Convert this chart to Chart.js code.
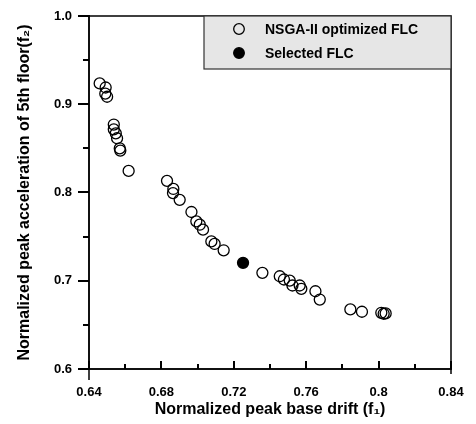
<!DOCTYPE html>
<html>
<head>
<meta charset="utf-8">
<script src="https://cdn.jsdelivr.net/npm/chart.js@4.4.1/dist/chart.umd.min.js"></script>
<style>
    html, body { margin: 0; padding: 0; background: #fff; }
    #wrap { width: 476px; height: 424px; position: relative; }
</style>
</head>
<body>
<div id="wrap"><canvas id="chart"></canvas></div>
<script>
// Pareto front
const paretoF1 = [0.6459, 0.6492, 0.6490, 0.6500, 0.6537, 0.6537, 0.6548, 0.6555, 0.6570, 0.6573,
    0.6619, 0.6831, 0.6866, 0.6864, 0.6901, 0.6966, 0.6993, 0.7012, 0.7030, 0.7076,
    0.7094, 0.7144, 0.7358, 0.7454, 0.7477, 0.7509, 0.7524, 0.7564, 0.7573, 0.7651,
    0.7675, 0.7844, 0.7908, 0.8015, 0.8028, 0.8039];
const paretoF2 = [0.9236, 0.9190, 0.9120, 0.9085, 0.8770, 0.8716, 0.8670, 0.8615, 0.8500, 0.8475,
    0.8245, 0.8132, 0.8040, 0.7993, 0.7917, 0.7779, 0.7673, 0.7635, 0.7579, 0.7446,
    0.7417, 0.7345, 0.7090, 0.7051, 0.7014, 0.7002, 0.6946, 0.6946, 0.6908, 0.6881,
    0.6787, 0.6675, 0.6649, 0.6637, 0.6626, 0.6630];
const selectedF1 = [0.7251];
const selectedF2 = [0.7203];

const seriesNames = ['NSGA-II optimized FLC', 'Selected FLC'];
const xTickLabels = [0.64, 0.68, 0.72, 0.76, 0.8, 0.84];
const yTickLabels = [0.6, 0.7, 0.8, 0.9, 1.0];
const xMinorStep = 0.02;
const yMinorStep = 0.05;

const toPoints = (xs, ys) => xs.map((x, i) => ({ x, y: ys[i] }));
const isMajor = (list, v) => list.some(t => Math.abs(t - v) < 1e-6);

const bold = size => ({ family: "'Liberation Sans', Arial, sans-serif", size, weight: 'bold' });

function tickValues(scale, step) {
    const out = [];
    const n = Math.round((scale.max - scale.min) / step);
    for (let i = 0; i <= n; i++) out.push(scale.min + i * step);
    return out;
}

// inward x ticks, outward y ticks, box frame and legend
const framePlugin = {
    id: 'frame',
    afterDraw(chart) {
        const { ctx, chartArea: a, scales } = chart;
        const xs = tickValues(scales.x, xMinorStep).map(v => [Math.round(scales.x.getPixelForValue(v)), isMajor(xTickLabels, v) ? 8 : 5]);
        const ys = tickValues(scales.y, yMinorStep).map(v => [Math.round(scales.y.getPixelForValue(v)), isMajor(yTickLabels, v) ? 11 : 6]);
        ctx.save();
        ctx.strokeStyle = '#000';
        ctx.lineWidth = 2;
        ctx.beginPath();
        xs.forEach(([px, len]) => {
            ctx.moveTo(px, a.bottom);
            ctx.lineTo(px, a.bottom - len);
        });
        ys.forEach(([py, len]) => {
            ctx.moveTo(a.left, py);
            ctx.lineTo(a.left - len, py);
        });
        ctx.stroke();

        // top and right sides of the box, plus the stubs below the x axis
        ctx.lineWidth = 1.5;
        ctx.beginPath();
        ctx.moveTo(a.left, a.top);
        ctx.lineTo(a.right, a.top);
        ctx.lineTo(a.right, a.bottom + 5);
        ctx.moveTo(a.left, a.bottom);
        ctx.lineTo(a.left, a.bottom + 11);
        ctx.stroke();

        // legend
        const lx = 204, ly = a.top, lw = a.right - lx, lh = 53;
        ctx.fillStyle = '#e6e6e6';
        ctx.fillRect(lx, ly, lw, lh);
        ctx.strokeStyle = '#333';
        ctx.lineWidth = 1.2;
        ctx.strokeRect(lx, ly, lw, lh);
        chart.data.datasets.forEach((ds, i) => {
            const cy = ly + 13 + i * 24;
            ctx.beginPath();
            ctx.arc(239, cy, 5.3, 0, Math.PI * 2);
            if (ds.backgroundColor !== 'rgba(0,0,0,0)') {
                ctx.fillStyle = ds.backgroundColor;
                ctx.fill();
            }
            ctx.strokeStyle = '#000';
            ctx.lineWidth = 1.3;
            ctx.stroke();
            ctx.fillStyle = '#000';
            ctx.font = "bold 14px 'Liberation Sans', Arial, sans-serif";
            ctx.textBaseline = 'middle';
            ctx.fillText(ds.label, 265, cy + 1);
        });
        ctx.restore();
    }
};

new Chart(document.getElementById('chart'), {
    type: 'scatter',
    data: {
        datasets: [
            {
                label: seriesNames[0],
                data: toPoints(paretoF1, paretoF2),
                pointRadius: 5.5,
                pointBorderWidth: 1.3,
                borderColor: '#000',
                backgroundColor: 'rgba(0,0,0,0)'
            },
            {
                label: seriesNames[1],
                data: toPoints(selectedF1, selectedF2),
                pointRadius: 5.5,
                pointBorderWidth: 1.3,
                borderColor: '#000',
                backgroundColor: '#000'
            }
        ]
    },
    options: {
        responsive: true,
        maintainAspectRatio: false,
        animation: false,
        layout: { padding: { top: 16, right: 25, left: 0, bottom: 0 } },
        plugins: { legend: { display: false }, tooltip: { enabled: false } },
        scales: {
            x: {
                type: 'linear',
                min: 0.64,
                max: 0.84,
                afterFit: s => { s.height = 55; s.paddingLeft = 0; s.paddingRight = 0; },
                grid: { display: false, drawTicks: false },
                border: { color: '#111', width: 2 },
                ticks: {
                    stepSize: xMinorStep,
                    padding: 16,
                    maxRotation: 0,
                    autoSkip: false,
                    color: '#000',
                    font: bold(13),
                    callback: v => {
                        const m = xTickLabels.find(t => Math.abs(t - v) < 1e-6);
                        return m === undefined ? '' : String(m);
                    }
                },
                title: {
                    display: true,
                    text: 'Normalized peak base drift (f₁)',
                    color: '#000',
                    font: bold(16),
                    padding: { top: 5, bottom: 5 }
                }
            },
            y: {
                type: 'linear',
                min: 0.6,
                max: 1.0,
                afterFit: s => { s.width = 89; s.paddingTop = 0; s.paddingBottom = 0; },
                grid: { display: false, drawTicks: false },
                border: { color: '#111', width: 2 },
                ticks: {
                    stepSize: yMinorStep,
                    padding: 17,
                    autoSkip: false,
                    color: '#000',
                    font: bold(13),
                    callback: v => {
                        const m = yTickLabels.find(t => Math.abs(t - v) < 1e-6);
                        return m === undefined ? '' : m.toFixed(1);
                    }
                },
                title: {
                    display: true,
                    text: 'Normalized peak acceleration of 5th floor(f₂)',
                    color: '#000',
                    font: bold(16),
                    padding: { top: 15, bottom: 0 }
                }
            }
        }
    },
    plugins: [framePlugin]
});
</script>
</body>
</html>
